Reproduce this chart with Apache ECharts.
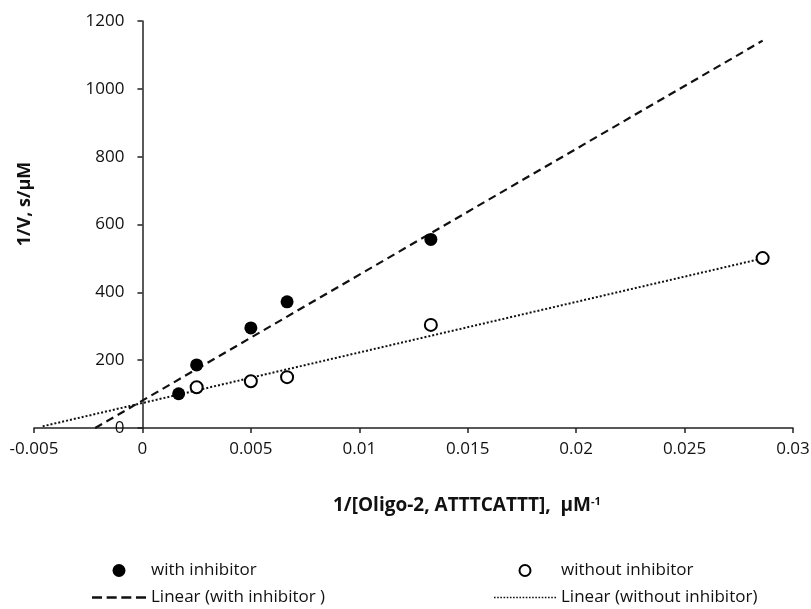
<!DOCTYPE html>
<html>
<head>
<meta charset="utf-8">
<script src="https://cdn.jsdelivr.net/npm/echarts@6/dist/echarts.min.js"></script>
<style>
  html, body { margin: 0; padding: 0; background: #fff; }
  #chart { width: 811px; height: 609px; }
</style>
</head>
<body>
<div id="chart"></div>
<script>
// 1/[S] values (µM^-1) and 1/V values (s/µM)
const withX = [0.00167, 0.0025, 0.005, 0.00667, 0.0133]
const withY = [101, 186, 295, 372, 556]
const withoutX = [0.0025, 0.005, 0.00667, 0.0133, 0.0286]
const withoutY = [120, 138, 150, 304, 501]

// trendline end points
const fitWithX = [-0.00218, 0.0286]
const fitWithY = [0, 1142]
const fitWithoutX = [-0.0046, 0.0286]
const fitWithoutY = [5, 500]

const pairs = (xs, ys) => xs.map((x, i) => [x, ys[i]])

// legend icons: a row of dashes and a row of dots
const dashIcon = 'path://' + [0, 1, 2, 3].map((i) => `M${i * 14.6},0h10v2.4h-10z`).join(' ')
const dotIcon = 'path://' + Array.from({ length: 20 }, (_, i) => `M${i * 3},0h1.5v1.5h-1.5z`).join(' ')

const font = 'Open Sans'
const ink = '#111'
const gridLeft = 34
const gridRight = 18
const chartWidth = 811
const xMin = -0.005
const xMax = 0.03
// the y axis sits at x = 0, so shift it right by that many pixels
const yAxisShift = ((0 - xMin) / (xMax - xMin)) * (chartWidth - gridLeft - gridRight)

const chart = echarts.init(document.getElementById('chart'))

chart.setOption({
  animation: false,
  grid: { left: gridLeft, right: gridRight, top: 21, bottom: 181, outerBoundsMode: 'none', containLabel: false },
  xAxis: {
    type: 'value',
    min: xMin,
    max: xMax,
    interval: 0.005,
    splitLine: { show: false },
    axisLine: { lineStyle: { color: '#222', width: 1.5 } },
    axisTick: { show: true, length: 5, lineStyle: { color: '#222', width: 1.5 } },
    axisLabel: {
      margin: 13,
      color: ink,
      fontFamily: font,
      fontSize: 17,
      showMinLabel: true,
      showMaxLabel: true,
      formatter: (v) => String(parseFloat(v.toFixed(4))),
    },
  },
  yAxis: {
    type: 'value',
    min: 0,
    max: 1200,
    interval: 200,
    position: 'left',
    offset: -yAxisShift,
    splitLine: { show: false },
    axisLine: { show: true, onZero: false, lineStyle: { color: '#222', width: 1.5 } },
    axisTick: { show: true, length: 5, lineStyle: { color: '#222', width: 1.5 } },
    axisLabel: { margin: 18, color: ink, fontFamily: font, fontSize: 17, formatter: (v) => String(v) },
  },
  legend: [
    {
      orient: 'vertical',
      left: 92,
      top: 562,
      padding: 0,
      itemWidth: 54,
      itemHeight: 13,
      itemGap: 10,
      textStyle: { color: ink, fontFamily: font, fontSize: 17, lineHeight: 17 },
      data: [
        { name: 'with inhibitor', icon: 'circle' },
        { name: 'Linear (with inhibitor )', icon: dashIcon },
      ],
    },
    {
      orient: 'vertical',
      left: 494,
      top: 562,
      padding: 0,
      itemWidth: 62,
      itemHeight: 11,
      itemGap: 10,
      textStyle: { color: ink, fontFamily: font, fontSize: 17, lineHeight: 17 },
      data: [
        { name: 'without inhibitor', icon: 'circle' },
        { name: 'Linear (without inhibitor)', icon: dotIcon },
      ],
    },
  ],
  graphic: [
    {
      type: 'text',
      left: 333,
      top: 496,
      style: {
        text: '{b|1/[Oligo-2, ATTTCATTT],  μM}{s|-1}',
        rich: {
          b: { fontFamily: font, fontWeight: 'bold', fontSize: 19, fill: ink },
          s: { fontFamily: font, fontWeight: 'bold', fontSize: 11, fill: ink, verticalAlign: 'top', padding: [0, 0, 9, 0] },
        },
      },
    },
    {
      type: 'text',
      x: 25,
      y: 204,
      rotation: Math.PI / 2,
      style: {
        text: '1/V, s/μM',
        fontFamily: font,
        fontWeight: 'bold',
        fontSize: 18,
        fill: ink,
        align: 'center',
        verticalAlign: 'middle',
      },
    },
  ],
  series: [
    {
      name: 'Linear (with inhibitor )',
      type: 'line',
      data: pairs(fitWithX, fitWithY),
      showSymbol: false,
      symbol: 'none',
      lineStyle: { color: ink, width: 2.2, type: [8, 5] },
      itemStyle: { color: ink },
      z: 2,
    },
    {
      name: 'Linear (without inhibitor)',
      type: 'line',
      data: pairs(fitWithoutX, fitWithoutY),
      showSymbol: false,
      symbol: 'none',
      lineStyle: { color: ink, width: 2, type: [2, 2] },
      itemStyle: { color: ink },
      z: 2,
    },
    {
      name: 'with inhibitor',
      type: 'scatter',
      data: pairs(withX, withY),
      symbol: 'circle',
      symbolSize: 13,
      itemStyle: { color: '#000', opacity: 1 },
      z: 3,
    },
    {
      name: 'without inhibitor',
      type: 'scatter',
      data: pairs(withoutX, withoutY),
      symbol: 'circle',
      symbolSize: 12,
      itemStyle: { color: '#fff', borderColor: '#000', borderWidth: 2, opacity: 1 },
      z: 3,
    },
  ],
})
</script>
</body>
</html>
